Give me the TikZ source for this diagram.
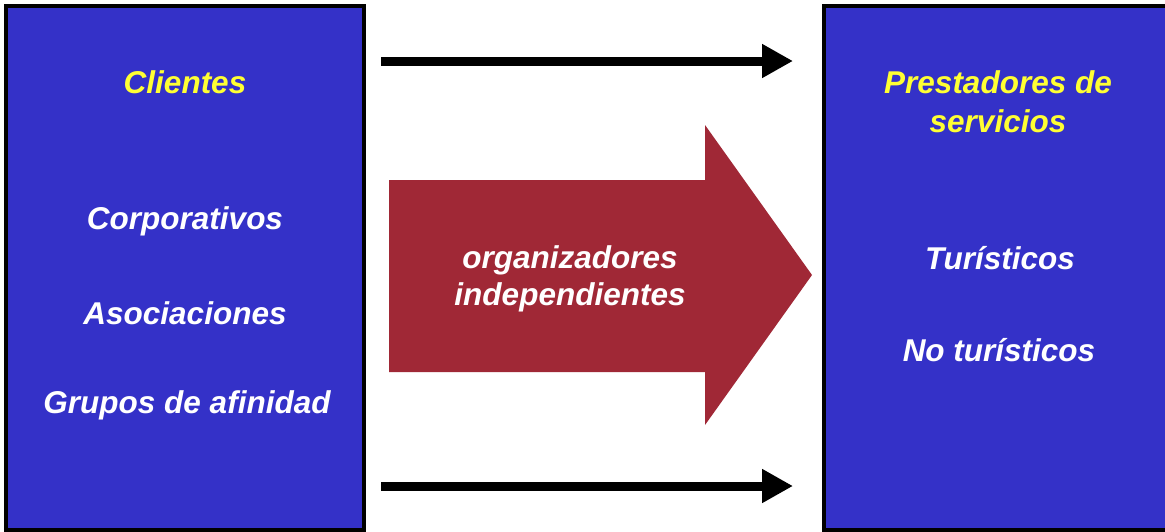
\documentclass[tikz,border=0pt]{standalone}
\usepackage{fontspec}
\setmainfont{Liberation Sans}
\usetikzlibrary{arrows.meta,positioning}

\definecolor{azul}{RGB}{52,49,200}
\definecolor{granate}{RGB}{160,40,54}
\definecolor{amarillo}{RGB}{255,255,51}

\begin{document}
\begin{tikzpicture}[x=0.5pt,y=-0.5pt,>={Triangle[length=15.5pt,width=16pt]}]
    \tikzstyle{caja}=[rectangle,draw=black,fill=azul,line width=2pt,minimum width=179pt,minimum height=262pt]
    \tikzstyle{txt}=[font=\fontsize{15.75}{18.5}\selectfont\bfseries\itshape,align=center,inner sep=0pt]
    \tikzstyle{flecha}=[->,line width=4.5pt]
    \useasboundingbox (0,0) rectangle (1165,531);
    \node[caja] (izq) at (185,268) {};
    \node[caja,minimum width=180pt] (der) at (1004,268) {};
    \node[txt,text=amarillo] (cli) at (185,82) {Clientes};
    \node[txt,text=white] (corp) at (185,221) {Corporativos};
    \node[txt,text=white] (asoc) at (185,313) {Asociaciones};
    \node[txt,text=white] (grup) at (187,405) {Grupos de afinidad};
    \node[txt,text=amarillo,font=\fontsize{15.75}{19.5}\selectfont\bfseries\itshape] (prest) at (998,102) {Prestadores de\\servicios};
    \node[txt,text=white] (tur) at (1000,258) {Turísticos};
    \node[txt,text=white] (notur) at (999,350) {No turísticos};
    % flecha grande
    \fill[granate] (389,180) -- (705,180) -- (705,125) -- (812,275) -- (705,425) -- (705,372) -- (389,372) -- cycle;
    \node[txt,text=white] (org) at (570,279) {organizadores\\independientes};
    \coordinate (a1) at (381,61);
    \coordinate (a2) at (793,61);
    \coordinate (b1) at (381,486);
    \coordinate (b2) at (793,486);
    \draw[flecha] (a1) -- (a2);
    \draw[flecha] (b1) -- (b2);
\end{tikzpicture}
\end{document}
